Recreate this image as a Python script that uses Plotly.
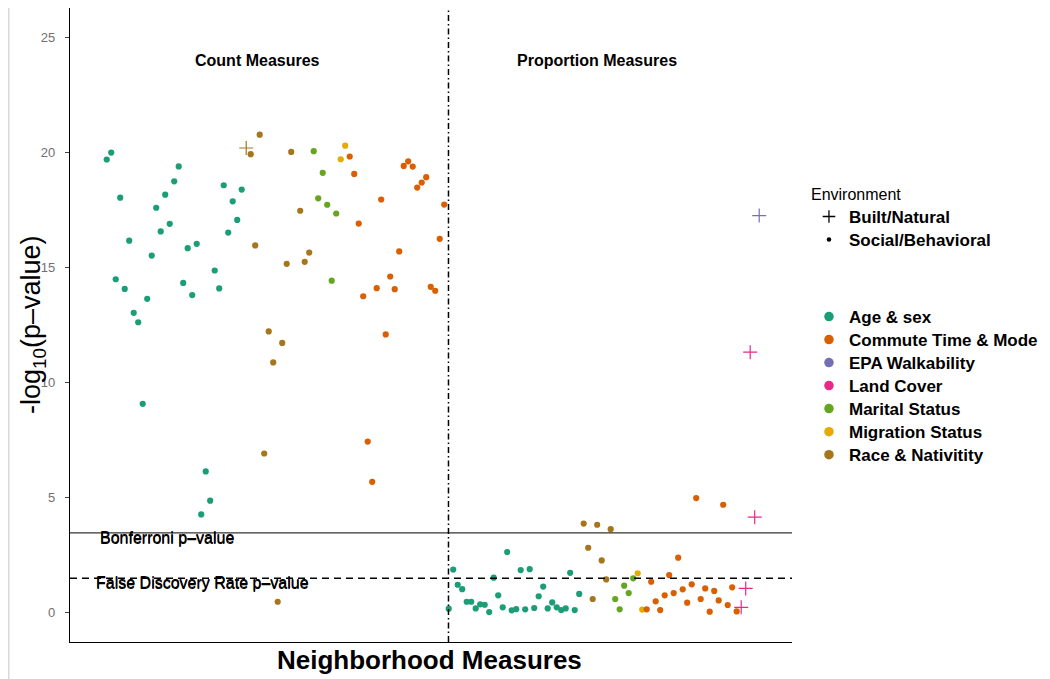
import plotly.graph_objects as go

# ---------------- data ----------------
categories = ["Age & sex", "Commute Time & Mode", "EPA Walkability", "Land Cover",
              "Marital Status", "Migration Status", "Race & Nativitity"]
colors = ["#1B9E77", "#D95F02", "#7570B3", "#E7298A", "#66A61E", "#E6AB02", "#A6761D"]

# measure positions (ordinal index along x) and -log10(p) values
age_pos = [1, 2, 3, 4, 5, 6, 7, 8, 9, 10, 11, 12, 13, 14, 15, 16, 17, 18, 19, 20, 21, 22, 23, 24, 25,
           26, 27, 28, 29, 30, 31,
           77, 78, 79, 80, 81, 82, 83, 84, 85, 86, 87, 88, 89, 90, 91, 92, 93, 94, 95, 96, 97, 98, 99,
           100, 101, 102, 103, 104, 105, 106]
age_val = [19.7, 20.0, 14.49, 18.04, 14.07, 16.17, 13.03, 12.62, 9.07, 13.64, 15.52, 17.6, 16.57,
           18.17, 16.9, 18.75, 19.4, 14.33, 15.84, 13.8, 16.03, 4.26, 6.13, 4.86, 14.87, 14.09, 18.58,
           16.52, 17.88, 17.07, 18.39,
           0.16, 1.86, 1.2, 1.01, 0.46, 0.46, 0.17, 0.35, 0.33, 0.01, 1.51, 0.74, 0.22, 2.62, 0.09,
           0.14, 1.84, 0.13, 1.88, 0.19, 0.7, 1.12, 0.17, 0.43, 0.22, 0.1, 0.17, 1.72, 0.1, 0.8]

race_pos = [33, 34, 35, 36, 37, 38, 39, 40, 41, 42, 44, 45, 46, 107, 108, 109, 110, 111, 112, 113]
race_val = [19.93, 15.96, 20.78, 6.91, 12.22, 10.87, 0.46, 11.72, 15.16, 20.03, 17.47, 15.25, 15.65,
            3.86, 2.81, 0.58, 3.81, 2.26, 1.43, 3.62]
race_built_pos = [32]
race_built_val = [20.2]

marital_pos = [47, 48, 49, 50, 51, 52, 114, 115, 116, 117, 118]
marital_val = [20.06, 18.01, 19.12, 17.73, 14.43, 17.35, 0.58, 0.13, 1.16, 0.84, 1.48]

migration_pos = [53, 54, 119, 120]
migration_val = [19.71, 20.3, 1.7, 0.12]

commute_pos = [55, 56, 57, 58, 59, 60, 61, 62, 63, 64, 65, 66, 67, 68, 69, 70, 71, 72, 73, 74, 75, 76,
               121, 122, 123, 124, 125, 126, 127, 128, 129, 130, 131, 132, 133, 134, 135, 136, 137,
               138, 139, 140, 141]
commute_val = [19.83, 19.07, 16.91, 13.75, 7.43, 5.68, 14.1, 17.96, 12.09, 14.61, 14.06, 15.7, 19.42,
               19.62, 19.39, 18.48, 18.7, 18.93, 14.16, 13.99, 16.25, 17.74,
               0.13, 1.33, 0.48, 0.1, 0.74, 1.62, 0.84, 2.38, 1.0, 0.42, 1.22, 4.97, 0.58, 1.04, 0.03,
               0.93, 0.52, 4.68, 0.32, 1.09, 0.04]

land_pos = [142, 143, 144, 145]
land_val = [0.22, 1.04, 11.32, 4.14]

epa_pos = [146]
epa_val = [17.26]

bonferroni_line = 3.46
fdr_line = 1.48
group_split = 76.95
x_range = [-7.16, 153.29]
y_range = [-1.29, 26.29]
y_ticks = [0, 5, 10, 15, 20, 25]

# ---------------- figure ----------------
fig = go.Figure()
FONT = "Liberation Sans, Arial, Helvetica, sans-serif"

def dots(pos, val, color):
    fig.add_trace(go.Scatter(x=pos, y=val, mode="markers", showlegend=False, hoverinfo="skip",
                             marker=dict(size=6.2, color=color, line=dict(width=0))))

def crosses(pos, val, color):
    fig.add_trace(go.Scatter(x=pos, y=val, mode="markers", showlegend=False, hoverinfo="skip",
                             marker=dict(size=10, symbol="cross-thin",
                                         line=dict(width=1.2, color=color))))

cmap = dict(zip(categories, colors))
dots(age_pos, age_val, cmap["Age & sex"])
dots(race_pos, race_val, cmap["Race & Nativitity"])
crosses(race_built_pos, race_built_val, cmap["Race & Nativitity"])
dots(marital_pos, marital_val, cmap["Marital Status"])
dots(migration_pos, migration_val, cmap["Migration Status"])
dots(commute_pos, commute_val, cmap["Commute Time & Mode"])
crosses(land_pos, land_val, cmap["Land Cover"])
crosses(epa_pos, epa_val, cmap["EPA Walkability"])

# legend entries
def lname(t):
    return "<span style='font-size:17px'><b>%s</b></span>" % t

fig.add_trace(go.Scatter(x=[None], y=[None], mode="markers", name=lname("Built/Natural"),
                         legend="legend",
                         marker=dict(size=9, symbol="cross-thin", line=dict(width=1.3, color="black"))))
fig.add_trace(go.Scatter(x=[None], y=[None], mode="markers", name=lname("Social/Behavioral"),
                         legend="legend", marker=dict(size=4.5, color="black")))
for c, col in zip(categories, colors):
    fig.add_trace(go.Scatter(x=[None], y=[None], mode="markers", name=lname(c), legend="legend2",
                             marker=dict(size=9.5, color=col)))

# reference lines
fig.add_shape(type="line", xref="x domain", yref="y", x0=0, x1=1, y0=bonferroni_line,
              y1=bonferroni_line, line=dict(color="#333333", width=1.3))
fig.add_shape(type="line", xref="x domain", yref="y", x0=0, x1=1, y0=fdr_line, y1=fdr_line,
              line=dict(color="black", width=1.6, dash="7px,5px"))
fig.add_shape(type="line", xref="x", yref="y domain", x0=group_split, x1=group_split, y0=0, y1=1,
              line=dict(color="black", width=1.5, dash="6px,3px,1.5px,3px"))
# page border at left
fig.add_shape(type="line", xref="paper", yref="paper", x0=-0.0852, x1=-0.0852, y0=-0.06, y1=1.0,
              line=dict(color="#d9d9d9", width=2))

ann = []
ann.append(dict(x=34.6, y=24.0, xref="x", yref="y", text="<b>Count Measures</b>", showarrow=False,
                font=dict(size=16, color="black")))
ann.append(dict(x=110, y=24.0, xref="x", yref="y", text="<b>Proportion Measures</b>", showarrow=False,
                font=dict(size=16, color="black")))
for ys in (0, 1):
    ann.append(dict(x=14.3, y=3.2, xref="x", yref="y", text="Bonferroni p\u2013value", showarrow=False,
                    yshift=ys, font=dict(size=16, color="black")))
    ann.append(dict(x=22.2, y=1.25, xref="x", yref="y", text="False Discovery Rate p\u2013value",
                    showarrow=False, yshift=ys, font=dict(size=16, color="black")))
ann.append(dict(x=0.4986, y=-0.0284, xref="paper", yref="paper", text="<b>Neighborhood Measures</b>",
                showarrow=False, yanchor="middle", font=dict(size=26, color="black")))
ann.append(dict(x=-0.0512, y=0.5, xref="paper", yref="paper",
                text="-log<sub>10</sub>(p\u2013value)", textangle=-90, showarrow=False,
                xanchor="center", yanchor="middle", font=dict(size=27, color="black")))

fig.update_layout(
    width=1042, height=671,
    margin=dict(l=62, r=258, t=0, b=37),
    paper_bgcolor="white", plot_bgcolor="white",
    font=dict(family=FONT, color="black"),
    xaxis=dict(range=x_range, showticklabels=False, ticks="", showgrid=False, zeroline=False,
               showline=True, linecolor="black", linewidth=1.3),
    yaxis=dict(range=y_range, tickvals=y_ticks, ticks="outside", ticklen=4, tickcolor="#444",
               tickwidth=1, showgrid=False, zeroline=False, showline=True, linecolor="black",
               linewidth=1.3, tickfont=dict(size=13, color="#707070"), ticklabelstandoff=7),
    annotations=ann,
    legend=dict(title=dict(text="Environment", font=dict(size=16, color="black")),
                x=1.0235, xanchor="left", y=0.730, yanchor="top", font=dict(size=15.4),
                bgcolor="rgba(0,0,0,0)", borderwidth=0, itemsizing="trace", tracegroupgap=0),
    legend2=dict(x=1.0235, xanchor="left", y=0.5394, yanchor="top", font=dict(size=15.4),
                 bgcolor="rgba(0,0,0,0)", borderwidth=0, itemsizing="trace", tracegroupgap=0),
    showlegend=True,
)

fig.write_html("out.html")
